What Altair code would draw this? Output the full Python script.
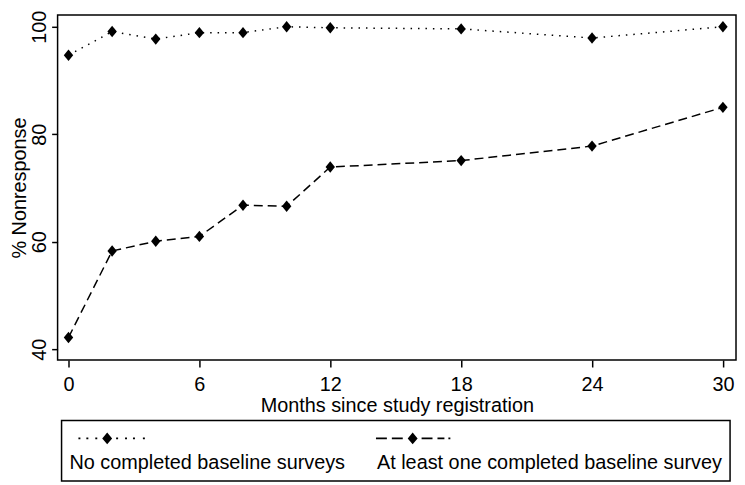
import altair as alt
import pandas as pd

# ---- data ----
months = [0, 2, 4, 6, 8, 10, 12, 18, 24, 30]
no_baseline = [94.7, 99.1, 97.7, 98.9, 98.9, 100.0, 99.8, 99.6, 97.9, 100.0]
at_least_one = [42.2, 58.3, 60.1, 61.0, 66.8, 66.6, 73.9, 75.1, 77.8, 85.0]
series_names = ["No completed baseline surveys", "At least one completed baseline survey"]
x_ticks = [0, 6, 12, 18, 24, 30]
y_ticks = [40, 60, 80, 100]

rows = []
for m, a, b in zip(months, no_baseline, at_least_one):
    rows.append({"months": m, "pct": a, "series": series_names[0]})
    rows.append({"months": m, "pct": b, "series": series_names[1]})
df = pd.DataFrame(rows)

FONT = "Liberation Sans"

# ---- legend key glyphs (line sample with a diamond), in symbol units ----
R = 35.0  # half-width of the legend symbol in px (symbolSize = (2R)^2)


def _n(v):
    return f"{round(v / R, 4):g}"


def seg(x0, x1, y, h=1.6):
    return f"M{_n(x0)},{_n(y - h / 2)}H{_n(x1)}V{_n(y + h / 2)}H{_n(x0)}Z"


def diamond(cx, cy, hw=5.0, hh=6.0):
    return (f"M{_n(cx)},{_n(cy - hh)}L{_n(cx + hw)},{_n(cy)}"
            f"L{_n(cx)},{_n(cy + hh)}L{_n(cx - hw)},{_n(cy)}Z")


KY = -25
dotted_key = "".join(seg(x - 1, x + 1, KY) for x in [-25, -17, -8, 13, 22, 30, 40]) + diamond(3, KY)
dashed_key = "".join(seg(a, b, KY) for a, b in [(-36, -25), (-20, -9), (10, 21), (26, 33), (37, 39)]) + diamond(1, KY)

shape_expr = f"datum.value === '{series_names[0]}' ? '{dotted_key}' : '{dashed_key}'"

DIAMOND = "M0,-1.15L0.95,0L0,1.15L-0.95,0Z"

x_scale = alt.Scale(domain=[-0.5, 30.6], nice=False, zero=False)
y_scale = alt.Scale(domain=[38, 102.2], nice=False, zero=False)

x_axis = alt.Axis(
    values=x_ticks, title="Months since study registration", grid=False, domain=False,
    tickSize=7, tickWidth=1.5, tickColor="black", labelPadding=8, labelFontSize=20,
    labelColor="black", labelFont=FONT, titleFont=FONT, titleFontSize=20,
    titleFontWeight="normal", titleColor="black", titlePadding=1,
)
y_axis = alt.Axis(
    values=y_ticks, title="% Nonresponse", grid=False, domain=False,
    tickSize=6, tickWidth=1.5, tickColor="black", labelAngle=270, labelAlign="center",
    labelBaseline="bottom", labelPadding=2, labelFontSize=20, labelColor="black",
    labelFont=FONT, titleFont=FONT, titleFontSize=20, titleFontWeight="normal",
    titleColor="black", titlePadding=0,
)

legend = alt.Legend(
    orient="none", legendX=4, legendY=409, direction="horizontal",
    padding=8, columnPadding=30, labelOffset={"expr": "-70"}, labelFont=FONT, labelFontSize=20,
    labelColor="black", labelLimit=0, symbolSize=4900, symbolStrokeWidth=0,
    symbolOffset=0, strokeColor="black",
    symbolType={"expr": shape_expr},
    symbolFillColor="black", symbolStrokeColor="transparent", symbolOpacity=1,
)

base = alt.Chart(df).encode(
    x=alt.X("months:Q", scale=x_scale, axis=x_axis),
    y=alt.Y("pct:Q", scale=y_scale, axis=y_axis),
)

lines = base.mark_line(color="black", strokeWidth=1.5, strokeCap="butt").encode(
    strokeDash=alt.StrokeDash(
        "series:N", title=None, legend=legend,
        scale=alt.Scale(domain=series_names, range=[[1.5, 6], [9, 5]]),
    )
)

points = base.mark_point(shape=DIAMOND, filled=True, size=100, color="black", opacity=1).encode(
    detail="series:N"
)

chart = (
    alt.layer(lines, points)
    .properties(width=684, height=348, padding={"left": 2, "top": 0, "right": 1, "bottom": 0},
                background="white")
    .configure_view(stroke="black", strokeWidth=1.5)
    .configure_legend(strokeWidth=1.5)
)

chart.save("out.html", embed_options={"renderer": "svg", "actions": False})
